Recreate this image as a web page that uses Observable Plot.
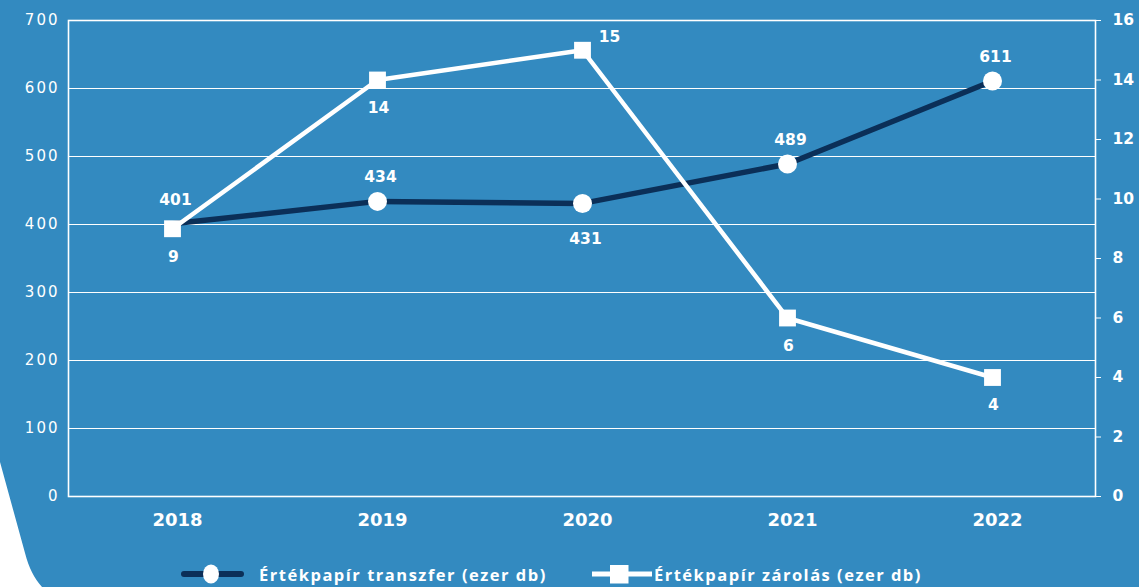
<!DOCTYPE html>
<html>
<head>
<meta charset="utf-8">
<script src="https://cdn.jsdelivr.net/npm/d3@7"></script>
<script src="https://cdn.jsdelivr.net/npm/@observablehq/plot@0.6"></script>
<style>
  html, body { margin: 0; padding: 0; background: #ffffff; }
  #wrap {
    position: relative; width: 1139px; height: 587px; background: #338ac0;
    clip-path: path("M0,0 L1139,0 L1139,587 L42,587 C34,578 29,568 25,553 L0,462 Z");
    font-family: "DejaVu Sans", sans-serif;
  }
  #chart { position: absolute; left: 0; top: 0; }
  #legend { position: absolute; left: 0; top: 560px; width: 1139px; height: 28px; }
  #legend .item { position: absolute; top: 0; height: 28px; display: flex; align-items: center; color: #fff;
    font-family: "Open Sans", sans-serif; font-weight: 700; font-size: 16.5px; white-space: nowrap; }
</style>
</head>
<body>
<div id="wrap">
  <div id="chart"></div>
  <div id="legend"></div>
</div>
<script>
const years = ["2018", "2019", "2020", "2021", "2022"];
const transfer = [401, 434, 431, 489, 611];
const zarolas = [9, 14, 15, 6, 4];
const leftTicks = [0, 100, 200, 300, 400, 500, 600, 700];
const rightTicks = [0, 2, 4, 6, 8, 10, 12, 14, 16];
const seriesNames = ["Értékpapír transzfer (ezer db)", "Értékpapír zárolás (ezer db)"];

const navy = "#0b2f58";
const k = 700 / 16; // right-axis values mapped onto the left scale

const tData = years.map((y, i) => ({year: y, value: transfer[i]}));
const zData = years.map((y, i) => ({year: y, value: zarolas[i], scaled: zarolas[i] * k}));

// label placement rules (style)
const tBelow = new Set(["2020"]);
const zRight = new Set(["2020"]);
const hiddenMarker = new Set(["2018"]); // circle hidden behind the square in the original

const lbl = {fill: "#fff", fontSize: 15.5, fontWeight: 700, fontFamily: "DejaVu Sans", dx: 3};

const chart = Plot.plot({
  width: 1139,
  height: 545,
  marginTop: 20,
  marginBottom: 49,
  marginLeft: 68,
  marginRight: 44,
  style: {background: "transparent", color: "#fff", fontFamily: "'DejaVu Sans', sans-serif"},
  x: {type: "point", domain: years, padding: 0.5},
  y: {domain: [0, 700]},
  marks: [
    Plot.gridY(leftTicks, {stroke: "#fff", strokeOpacity: 1, strokeWidth: 1}),
    Plot.frame({stroke: "#fff", strokeWidth: 1.6}),
    Plot.axisY(leftTicks, {anchor: "left", tickSize: 0, tickPadding: 9, fontSize: 15, fill: "#fff", label: null}),
    Plot.axisY(rightTicks.map(v => v * k), {anchor: "right", tickSize: 5, tickPadding: 12, fontSize: 15.5, fontWeight: 700,
      fill: "#fff", stroke: "#fff", tickFormat: d => Math.round(d / k), label: null}),
    Plot.axisX(years, {tickSize: 0, tickPadding: 17, fontSize: 18, fontWeight: 700, fill: "#fff", dx: 5, label: null}),
    Plot.line(tData, {x: "year", y: "value", stroke: navy, strokeWidth: 5.5}),
    Plot.dot(tData.filter(d => !hiddenMarker.has(d.year)), {x: "year", y: "value", r: 9.5, fill: "#fff", stroke: null}),
    Plot.line(zData, {x: "year", y: "scaled", stroke: "#fff", strokeWidth: 4.5}),
    Plot.dot(zData, {x: "year", y: "scaled", symbol: "square", r: 9.5, fill: "#fff", stroke: null}),
    Plot.text(tData.filter(d => !tBelow.has(d.year)), {x: "year", y: "value", text: d => String(d.value), dy: -24, ...lbl}),
    Plot.text(tData.filter(d => tBelow.has(d.year)), {x: "year", y: "value", text: d => String(d.value), dy: 36, ...lbl}),
    Plot.text(zData.filter(d => !zRight.has(d.year)), {x: "year", y: "scaled", text: d => String(d.value), dy: 28, ...lbl, dx: 1}),
    Plot.text(zData.filter(d => zRight.has(d.year)), {x: "year", y: "scaled", text: d => String(d.value), ...lbl, dx: 27, dy: -13})
  ]
});
// wider spacing for the light left-axis numbers
d3.select(chart).selectAll('g[aria-label="y-axis tick label"]')
  .filter(function() { return this.getAttribute("text-anchor") === "end"; })
  .attr("letter-spacing", "2px");
document.getElementById("chart").appendChild(chart);

// legend
const legend = document.getElementById("legend");
function swatch(kind) {
  const s = d3.create("svg").attr("width", 64).attr("height", 28).style("flex", "none");
  if (kind === 0) {
    s.append("line").attr("x1", 4).attr("x2", 61).attr("y1", 14).attr("y2", 14)
      .attr("stroke", navy).attr("stroke-width", 6).attr("stroke-linecap", "round");
    s.append("ellipse").attr("cx", 31).attr("cy", 14).attr("rx", 8).attr("ry", 9.5).attr("fill", "#fff");
  } else {
    s.append("line").attr("x1", 2).attr("x2", 62).attr("y1", 14).attr("y2", 14)
      .attr("stroke", "#fff").attr("stroke-width", 5);
    s.append("rect").attr("x", 20).attr("y", 5).attr("width", 18.5).attr("height", 18.5).attr("fill", "#fff");
  }
  return s.node();
}
const lefts = [180, 590];
const textStarts = [259, 654];
const textWidths = [288, 268];
const spans = [];
seriesNames.forEach((name, i) => {
  const item = document.createElement("div");
  item.className = "item";
  item.style.left = lefts[i] + "px";
  item.appendChild(swatch(i));
  const t = document.createElement("span");
  t.textContent = name;
  t.style.marginLeft = (textStarts[i] - lefts[i] - 64) + "px";
  item.appendChild(t);
  legend.appendChild(item);
  spans.push(t);
});
function fitLegend() {
  spans.forEach((t, i) => {
    t.style.letterSpacing = "0px";
    const w = t.getBoundingClientRect().width;
    const n = seriesNames[i].length;
    t.style.letterSpacing = ((textWidths[i] - w) / n).toFixed(2) + "px";
  });
}
fitLegend();
if (document.fonts && document.fonts.ready) document.fonts.ready.then(fitLegend);
</script>
</body>
</html>
